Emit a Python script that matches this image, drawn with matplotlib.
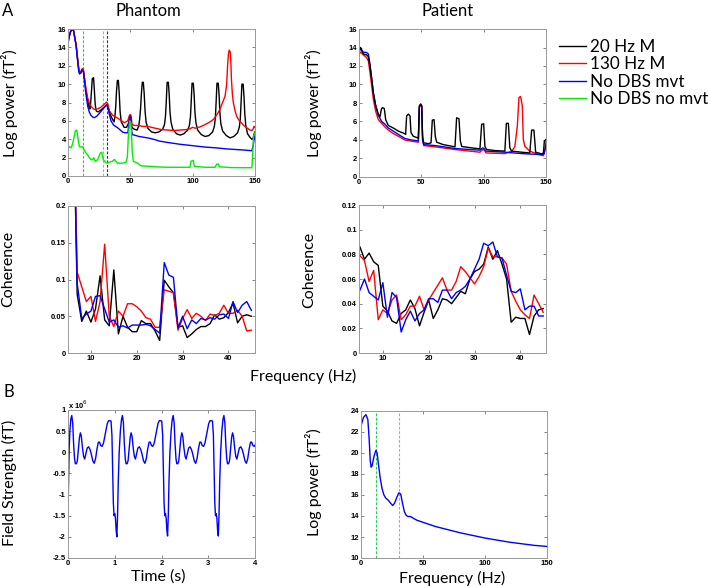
import matplotlib
matplotlib.use('Agg')
import matplotlib.pyplot as plt

plt.rcParams['font.family'] = ['Lato', 'DejaVu Sans']

# ---- A, top: log power spectra (phantom) ----
ph_black_f = [0, 1, 2, 3.5, 4.5, 5.5, 6.5, 7.5, 8.5, 9.3, 10.3, 11.5, 12.3, 13.1, 14.4, 15.8, 17.1, 17.6,
              18.2, 18.8, 19.5, 20.5, 21.2, 21.8, 22.6, 23.5, 24.5, 26.5, 29, 31.3, 33, 34.5, 36, 37.0, 37.6,
              38.3, 38.9, 39.6, 40.4, 41.1, 41.8, 42.7, 45, 47, 48.7, 49.5, 50.0, 50.5, 51.3, 53, 55.5, 56.8,
              57.5, 58.2, 58.9, 59.6, 60.4, 61.1, 61.8, 62.6, 64, 67, 70, 73, 76, 77.4, 78.2, 78.8, 79.5, 80.5,
              81.2, 81.8, 82.6, 84, 87, 90, 93, 96, 97.4, 98.2, 98.8, 99.5, 100.5, 101.2, 101.8, 102.6, 104, 107,
              110, 113, 116, 117.4, 118.2, 118.8, 119.5, 120.5, 121.2, 121.8, 122.6, 124, 127, 130, 133, 136,
              137.4, 138.2, 138.8, 139.5, 140.5, 141.2, 141.8, 142.6, 144, 146, 147.5, 148.5, 149.3, 150]
ph_black_v = [14.5, 15.2, 15.7, 16.0, 15.8, 15.0, 14.3, 13.0, 11.8, 11.2, 11.3, 11.6, 11.5, 10.7, 9.3, 8.2, 7.4, 7.3,
              8.0, 9.2, 10.6, 10.7, 9.2, 7.8, 7.1, 7.0, 7.0, 7.2, 7.5, 7.8, 7.1, 6.5, 6.1, 5.9, 6.4,
              7.6, 9.2, 10.4, 10.4, 9.0, 7.0, 5.9, 5.3, 5.3, 5.8, 6.4, 6.6, 6.3, 5.3, 5.1, 5.0, 5.5,
              6.2, 7.3, 9.0, 10.2, 10.2, 9.0, 7.1, 5.9, 5.2, 4.8, 4.7, 4.8, 5.1, 5.6, 6.5, 8.0, 10.2, 10.2,
              8.8, 7.0, 5.9, 5.1, 4.6, 4.45, 4.6, 5.0, 5.5, 6.4, 8.0, 10.1, 10.1, 8.8, 7.0, 5.8, 5.0, 4.5,
              4.3, 4.4, 4.8, 5.4, 6.3, 8.0, 10.1, 10.1, 8.8, 7.0, 5.7, 4.9, 4.4, 4.15, 4.3, 4.7,
              5.3, 6.2, 7.9, 10.0, 10.0, 8.6, 6.8, 5.5, 4.6, 4.2, 4.0, 4.1, 4.6, 4.8]

ph_red_f = [0, 1, 2, 3.5, 4.5, 5.5, 6.5, 7.5, 8.5, 9.3, 10.3, 11.5, 12.3, 13.1, 14.4, 15.8, 17.5, 19, 21, 23.8,
            26.5, 29, 31, 32, 33.2, 35.8, 39.8, 43, 45.2, 47.9, 49.3, 50, 50.7, 51.3, 53, 56, 60, 64, 70, 75,
            80, 85, 90, 95, 98, 100, 102, 106, 110, 114, 117, 120, 122, 124, 126, 127.3, 128, 128.7, 129.3,
            130.1, 130.6, 131.1, 131.8, 132.6, 134, 135.3, 137, 139, 141, 143.4, 146, 147.5, 148.5, 149.3, 150]
ph_red_v = [14.5, 15.2, 15.7, 16.0, 15.8, 15.0, 14.3, 13.0, 11.8, 11.3, 11.4, 11.7, 11.6, 10.8, 9.5, 8.5, 7.8, 7.5, 7.25, 7.3,
            7.5, 7.8, 8.05, 7.8, 7.1, 6.6, 6.3, 6.0, 5.8, 6.0, 6.6, 6.7, 6.5, 5.6, 5.5, 5.5, 5.4, 5.4, 5.2, 5.05,
            5.0, 4.95, 5.0, 5.05, 5.15, 5.3, 5.2, 5.35, 5.6, 5.9, 6.2, 6.8, 7.3, 8.0, 8.7, 10.0, 12.0, 13.3, 13.7,
            13.5, 12.5, 10.5, 9.0, 8.0, 7.1, 6.5, 6.1, 5.8, 5.5, 5.25, 5.0, 4.95, 5.1, 5.4, 5.3]

ph_blue_f = [0, 1, 2, 3.5, 4.5, 5.5, 6.5, 7.5, 8.5, 9.2, 10.3, 11.5, 12.3, 13.1, 14.4, 15.8, 17, 18.4, 20, 21.1,
             23, 25, 27.8, 30, 31, 32, 33.2, 34.5, 36.6, 39.8, 42, 43.9, 46, 48, 48.8, 49.4, 50, 50.6, 51.1,
             51.6, 53.2, 57, 63.9, 70, 73.3, 80, 90, 100, 110, 120, 127, 135, 142, 147.5, 148.5, 149.3, 150]
ph_blue_v = [14.5, 15.2, 15.7, 16.0, 15.8, 15.0, 14.2, 12.8, 11.5, 11.1, 11.2, 11.55, 11.4, 10.5, 8.9, 7.6, 7.0, 6.6, 6.4, 6.35,
             6.5, 6.8, 7.25, 7.6, 7.76, 7.4, 6.7, 6.0, 5.54, 5.25, 5.0, 4.77, 4.7, 4.7, 5.5, 6.3, 6.5, 6.0, 4.9,
             4.5, 4.45, 4.3, 4.15, 3.95, 3.8, 3.65, 3.45, 3.3, 3.15, 3.05, 2.95, 2.88, 2.82, 2.75, 3.3, 4.0, 4.5]

ph_green_f = [0, 1.1, 2.4, 3.5, 4.5, 5.9, 7, 8, 9.1, 10.4, 11.8, 13.1, 14.5, 15.8, 17, 18.4, 19.5, 20.6, 21.9,
              23.8, 25.9, 27, 28.3, 30.5, 33.2, 35.5, 37.2, 39.8, 43.9, 46.5, 47.6, 48.4, 49.5, 50.5, 51.6,
              52.4, 55.9, 58.5, 66.6, 73.3, 80, 90, 97.9, 98.6, 100.5, 101.3, 110, 118, 119.3, 120.6, 121.4,
              130, 140, 147.5, 148.2, 148.8, 150]
ph_green_v = [3.06, 3.2, 3.05, 3.4, 4.0, 4.9, 5.0, 4.15, 3.2, 3.15, 3.2, 2.8, 2.5, 2.3, 2.0, 1.8, 1.75, 2.0, 1.6,
              1.8, 2.5, 2.6, 1.8, 1.4, 1.5, 1.6, 1.8, 1.4, 1.4, 1.5, 2.0, 4.3, 6.0, 5.8, 2.5,
              1.6, 1.4, 1.1, 1.05, 0.98, 0.95, 0.95, 0.95, 1.6, 1.7, 1.05, 0.95, 0.95, 1.3, 1.3, 1.0,
              0.92, 0.9, 0.9, 2.5, 4.3, 4.7]

# ---- A, top: log power spectra (patient) ----
pt_black_f = [0, 1.3, 2, 3.5, 6.1, 7.5, 8.8, 10.2, 11.5, 13.4, 15.5, 16.8, 17.9, 18.7, 20.3, 21.4, 23.5, 27.5,
              31.6, 36.4, 37.4, 38.2, 39.6, 40.9, 41.7, 43.6, 47.6, 48.4, 49.5, 50.3, 51, 51.9, 55.6, 57.8,
              58.8, 60.2, 61.2, 62.3, 67.6, 77, 78.3, 80.2, 81.3, 82.4, 90.4, 97, 98.4, 100, 101, 102.4, 109,
              117, 118.2, 119.8, 121, 122.5, 130.5, 137, 138.5, 140.3, 141.7, 146.5, 147.9, 148.7, 150]
pt_black_v = [13.6, 14.0, 13.7, 13.3, 13.2, 13.0, 12.0, 10.6, 9.1, 7.7, 6.8, 6.5, 7.3, 7.5, 7.4, 6.2, 5.57, 5.3,
              4.96, 4.7, 4.6, 6.6, 6.8, 6.6, 4.8, 4.4, 4.2, 7.7, 7.9, 7.7, 4.4, 3.7, 3.6, 3.7,
              6.15, 6.2, 4.4, 3.76, 3.5, 3.26, 6.4, 6.3, 3.9, 3.3, 3.15, 3.04, 5.7, 5.75, 3.3, 2.97, 2.86,
              2.8, 5.8, 5.8, 3.15, 2.8, 2.68, 2.6, 5.07, 5.07, 2.68, 2.5, 2.6, 3.9, 4.05]

pt_red_f = [0, 1.3, 3.5, 6.1, 7.5, 8.8, 10.2, 11.5, 13.4, 15.5, 18.2, 20.9, 23.5, 27.5, 31.6, 36.9, 42.2, 47.6,
            48.4, 49.5, 50.3, 51, 51.9, 61, 77, 97, 99.2, 100.5, 101.9, 117, 122.5, 125, 127, 128.3, 129.6,
            131, 131.8, 133, 137, 142.5, 147.9, 149.2, 150]
pt_red_v = [13.3, 13.5, 13.2, 12.9, 12.56, 11.3, 9.84, 8.4, 7.1, 6.2, 5.8, 5.4, 5.07, 4.7, 4.4, 4.0, 3.87, 3.76,
            7.5, 7.75, 7.6, 4.0, 3.4, 3.26, 2.97, 2.68, 2.97, 2.9, 2.6, 2.53, 2.8, 3.26, 5.5, 8.6, 8.7,
            7.7, 4.05, 3.33, 2.8, 2.5, 2.3, 2.97, 3.9]

pt_blue_f = [0, 1.3, 3.5, 6.1, 7.5, 8.8, 10.2, 11.5, 13.4, 15.5, 18.2, 20.9, 23.5, 27.5, 31.6, 36.9, 42.2, 47.6,
             48.4, 49.5, 50.3, 51, 51.9, 61, 77, 97, 99.2, 100.5, 101.9, 117, 130.5, 146.5, 148.5, 150]
pt_blue_v = [13.5, 13.9, 13.5, 13.46, 13.3, 12.2, 10.6, 9.1, 7.7, 6.66, 6.0, 5.7, 5.3, 4.96, 4.6, 4.16, 4.0, 3.9,
             7.6, 7.8, 7.7, 4.05, 3.5, 3.4, 3.08, 2.9, 3.15, 3.04, 2.8, 2.68, 2.53, 2.42, 2.5, 3.5]

# ---- A, bottom: coherence ----
coh_f = list(range(5, 46))   # 1 Hz bins
ph_coh_f = coh_f[1:]         # phantom starts at 6 Hz
ph_coh_black = [0.4, 0.08, 0.043, 0.057, 0.042, 0.06, 0.105, 0.045, 0.037, 0.113, 0.026, 0.05, 0.035, 0.029,
                0.029, 0.044, 0.04, 0.04, 0.03, 0.017, 0.099, 0.09, 0.082, 0.035, 0.037, 0.021, 0.026, 0.032,
                0.036, 0.036, 0.04, 0.052, 0.046, 0.048, 0.055, 0.068, 0.041, 0.05, 0.052, 0.05]
ph_coh_red = [0.4, 0.11, 0.09, 0.07, 0.077, 0.043, 0.07, 0.148, 0.05, 0.036, 0.057, 0.05, 0.067, 0.067,
              0.063, 0.057, 0.048, 0.046, 0.035, 0.035, 0.086, 0.084, 0.082, 0.031, 0.047, 0.059, 0.047, 0.054,
              0.05, 0.044, 0.053, 0.051, 0.054, 0.065, 0.054, 0.054, 0.058, 0.05, 0.03, 0.031]
ph_coh_blue = [0.4, 0.095, 0.047, 0.053, 0.057, 0.077, 0.078, 0.06, 0.042, 0.045, 0.035, 0.037, 0.034, 0.038,
               0.038, 0.038, 0.039, 0.037, 0.032, 0.027, 0.123, 0.106, 0.103, 0.034, 0.05, 0.033, 0.045, 0.04,
               0.047, 0.045, 0.048, 0.046, 0.052, 0.053, 0.047, 0.07, 0.055, 0.065, 0.07, 0.058]

pt_coh_black = [0.086, 0.076, 0.081, 0.074, 0.071, 0.038, 0.034, 0.026, 0.024, 0.032, 0.035, 0.043, 0.036, 0.022,
                0.033, 0.043, 0.028, 0.035, 0.044, 0.043, 0.04, 0.045, 0.05, 0.048, 0.06, 0.066, 0.068, 0.072,
                0.086, 0.076, 0.083, 0.072, 0.06, 0.025, 0.029, 0.028, 0.028, 0.015, 0.03, 0.035, 0.036]
pt_coh_red = [0.079, 0.075, 0.058, 0.067, 0.027, 0.035, 0.032, 0.043, 0.047, 0.027, 0.031, 0.038, 0.038, 0.046,
              0.035, 0.043, 0.049, 0.055, 0.061, 0.051, 0.051, 0.058, 0.07, 0.066, 0.061, 0.056, 0.062, 0.07,
              0.085, 0.078, 0.078, 0.077, 0.072, 0.05, 0.042, 0.035, 0.031, 0.028, 0.047, 0.04, 0.033]
pt_coh_blue = [0.051, 0.06, 0.049, 0.046, 0.043, 0.057, 0.029, 0.049, 0.045, 0.017, 0.027, 0.034, 0.026, 0.032,
               0.035, 0.044, 0.044, 0.041, 0.051, 0.051, 0.044, 0.049, 0.051, 0.054, 0.06, 0.068, 0.076, 0.089,
               0.087, 0.09, 0.078, 0.077, 0.063, 0.05, 0.049, 0.052, 0.035, 0.038, 0.038, 0.03, 0.03]

# ---- B: phantom field strength (x 10^6 fT) ----
field_t = [0.0, 0.012, 0.025, 0.04, 0.06,
           0.08, 0.10, 0.12, 0.14, 0.157, 0.18, 0.20, 0.22, 0.245, 0.265, 0.285, 0.31, 0.335, 0.357, 0.38,
           0.41, 0.44, 0.47, 0.50, 0.53, 0.56, 0.59, 0.62, 0.65, 0.675, 0.70, 0.73, 0.76, 0.80, 0.84, 0.87,
           0.92, 0.94, 0.955, 0.97, 0.985, 1.00, 1.015, 1.03, 1.045, 1.06, 1.075, 1.095, 1.12, 1.145,
           1.165, 1.185, 1.205, 1.225, 1.242, 1.265, 1.285, 1.305, 1.33, 1.35, 1.37, 1.395, 1.42, 1.442,
           1.465, 1.495, 1.525, 1.555, 1.585, 1.615, 1.645, 1.675, 1.705, 1.735, 1.76, 1.785, 1.815, 1.845,
           1.885, 1.925, 1.955, 2.005, 2.025, 2.04, 2.055, 2.07, 2.085, 2.10, 2.115, 2.13, 2.145, 2.16, 2.18,
           2.205, 2.23,
           2.25, 2.27, 2.29, 2.31, 2.327, 2.35, 2.37, 2.39, 2.415, 2.435, 2.455, 2.48, 2.505, 2.527, 2.55,
           2.58, 2.61, 2.64, 2.67, 2.70, 2.73, 2.76, 2.79, 2.82, 2.845, 2.87, 2.90, 2.93, 2.97, 3.01, 3.04,
           3.09, 3.11, 3.125, 3.14, 3.155, 3.17, 3.185, 3.20, 3.215, 3.23, 3.245, 3.265, 3.29, 3.315,
           3.335, 3.355, 3.375, 3.395, 3.412, 3.435, 3.455, 3.475, 3.50, 3.52, 3.54, 3.565, 3.59, 3.612,
           3.635, 3.665, 3.695, 3.725, 3.755, 3.785, 3.815, 3.845, 3.875, 3.905, 3.93, 3.955, 3.985, 4.0]
field_v = [-1.45, -0.7, 0.1, 0.5, 0.78,
           0.87, 0.70, 0.20, -0.15, -0.27, -0.27, -0.20, 0.05, 0.35, 0.46, 0.38, 0.10, -0.10, -0.16, -0.05,
           0.10, 0.13, 0.07, -0.05, -0.20, -0.26, -0.15, 0.08, 0.24, 0.24, 0.16, 0.14, 0.22, 0.45, 0.68, 0.75,
           0.74, 0.40, -0.40, -1.20, -1.50, -1.45, -1.56, -1.85, -2.00, -1.50, -0.70, 0.00, 0.50, 0.78,
           0.87, 0.70, 0.20, -0.15, -0.27, -0.27, -0.20, 0.05, 0.35, 0.46, 0.38, 0.10, -0.10, -0.16,
           -0.05, 0.10, 0.13, 0.07, -0.05, -0.20, -0.26, -0.15, 0.08, 0.24, 0.24, 0.16, 0.14, 0.22,
           0.45, 0.68, 0.75, 0.74, 0.40, -0.40, -1.20, -1.50, -1.45, -1.56, -1.85, -1.98, -1.50, -0.70, 0.00,
           0.50, 0.78,
           0.87, 0.70, 0.20, -0.15, -0.27, -0.27, -0.20, 0.05, 0.35, 0.46, 0.38, 0.10, -0.10, -0.16, -0.05,
           0.10, 0.13, 0.07, -0.05, -0.20, -0.26, -0.15, 0.08, 0.24, 0.24, 0.16, 0.14, 0.22, 0.45, 0.68, 0.75,
           0.74, 0.40, -0.40, -1.20, -1.50, -1.45, -1.56, -1.85, -1.98, -1.50, -0.70, 0.00, 0.50, 0.78,
           0.87, 0.70, 0.20, -0.15, -0.27, -0.27, -0.20, 0.05, 0.35, 0.46, 0.38, 0.10, -0.10, -0.16,
           -0.05, 0.10, 0.13, 0.07, -0.05, -0.20, -0.26, -0.15, 0.08, 0.24, 0.24, 0.16, 0.14, 0.17]

# ---- B: phantom spectrum ----
psd_b_f = [0.5, 2, 4, 5.5, 6.5, 7.5, 8.2, 9, 10.5, 12, 13, 14, 15.5, 17, 18.5, 20, 22, 24, 25.5, 27, 29, 30.5,
           32, 33.5, 35, 36.5, 38, 40, 42, 45, 50, 55, 60, 70, 80, 90, 100, 110, 120, 130, 140, 150]
psd_b_v = [22.8, 23.4, 23.65, 23.2, 21.5, 19.2, 18.65, 18.8, 19.7, 20.25, 20.0, 19.0, 17.6, 16.6, 16.0, 15.7,
           15.5, 15.2, 15.0, 15.2, 15.8, 16.2, 16.1, 15.2, 14.4, 14.05, 13.95, 13.95, 13.8, 13.6, 13.4, 13.2,
           13.0, 12.7, 12.4, 12.15, 11.9, 11.7, 11.5, 11.35, 11.2, 11.1]

legend_names = ['20 Hz M', '130 Hz M', 'No DBS mvt', 'No DBS no mvt']
colors = ['#000000', '#ff0000', '#0000ff', '#00ee00']

TICKFONT = dict(fontsize=5.5, fontweight='bold', family='Liberation Sans')


def setup(ax, xlim, xt, xtl, ylim, yt, ytl):
    ax.set_xlim(xlim)
    ax.set_ylim(ylim)
    ax.set_xticks(xt, xtl, **TICKFONT)
    ax.set_yticks(yt, ytl, **TICKFONT)
    ax.tick_params(direction='in', length=2.5, width=0.5, top=True, right=True,
                   color='#555555', pad=1.5)
    for s in ax.spines.values():
        s.set_color('#999999')
        s.set_linewidth(0.7)


W, H = 708.0, 586.0


def box(l, t, r, b):
    return [l / W, 1 - b / H, (r - l) / W, (b - t) / H]


fig = plt.figure(figsize=(7.08, 5.86), dpi=100)

psd_ticks = ([0, 50, 100, 150], ['0', '50', '100', '150'])
psd_yt = list(range(0, 17, 2))

ax1 = fig.add_axes(box(68, 29, 255, 176))
ax1.axvline(12, color='#22cc55', ls=(0, (2.5, 1.5)), lw=0.8)
ax1.axvline(28, color='#aaaaaa', ls=(0, (2.5, 1.5)), lw=0.8)
ax1.axvline(31, color='#333333', ls=(0, (2.5, 1.5)), lw=0.8)
ax1.plot(ph_black_f, ph_black_v, color=colors[0], lw=1.0)
ax1.plot(ph_red_f, ph_red_v, color=colors[1], lw=1.0)
ax1.plot(ph_blue_f, ph_blue_v, color=colors[2], lw=1.0)
ax1.plot(ph_green_f, ph_green_v, color=colors[3], lw=1.0)
setup(ax1, (0, 150), *psd_ticks, (0, 16), psd_yt, [str(v) for v in psd_yt])

ax2 = fig.add_axes(box(359, 29, 546, 177))
l_red, = ax2.plot(pt_red_f, pt_red_v, color=colors[1], lw=1.0)
l_blue, = ax2.plot(pt_blue_f, pt_blue_v, color=colors[2], lw=1.0)
l_black, = ax2.plot(pt_black_f, pt_black_v, color=colors[0], lw=1.0)
l_green, = ax2.plot([], [], color=colors[3], lw=1.0)
setup(ax2, (0, 150), *psd_ticks, (0, 16), psd_yt, [str(v) for v in psd_yt])

fig.legend([l_black, l_red, l_blue, l_green], legend_names, loc='upper left',
           bbox_to_anchor=(559 / W, 1 - 39 / H), frameon=False, fontsize=12.3,
           handlelength=1.6, handletextpad=0.2, labelspacing=0.08, borderaxespad=0,
           borderpad=0)

coh_xt = ([10, 20, 30, 40], ['10', '20', '30', '40'])
ax3 = fig.add_axes(box(68, 206, 255, 353))
ax3.plot(ph_coh_f, ph_coh_black, color=colors[0], lw=1.0)
ax3.plot(ph_coh_f, ph_coh_red, color=colors[1], lw=1.0)
ax3.plot(ph_coh_f, ph_coh_blue, color=colors[2], lw=1.0)
setup(ax3, (5, 45.8), *coh_xt, (0, 0.2), [0, 0.05, 0.1, 0.15, 0.2],
      ['0', '0.05', '0.1', '0.15', '0.2'])

ax4 = fig.add_axes(box(359, 205, 546, 353))
ax4.plot(coh_f, pt_coh_black, color=colors[0], lw=1.0)
ax4.plot(coh_f, pt_coh_red, color=colors[1], lw=1.0)
ax4.plot(coh_f, pt_coh_blue, color=colors[2], lw=1.0)
setup(ax4, (4.8, 45.6), *coh_xt, (0, 0.12), [0, 0.02, 0.04, 0.06, 0.08, 0.1, 0.12],
      ['0', '0.02', '0.04', '0.06', '0.08', '0.1', '0.12'])

ax5 = fig.add_axes(box(68, 410, 255, 558))
ax5.plot(field_t, field_v, color=colors[2], lw=1.0)
fyt = [-2.5, -2, -1.5, -1, -0.5, 0, 0.5, 1]
setup(ax5, (0, 4), [0, 1, 2, 3, 4], ['0', '1', '2', '3', '4'], (-2.5, 1), fyt,
      ['-2.5', '-2', '-1.5', '-1', '-0.5', '0', '0.5', '1'])
fig.text(68 / W, 1 - 405 / H, r'x 10$^{6}$', fontsize=5.5, fontweight='bold',
         family='Liberation Sans', va='center', ha='left')

ax6 = fig.add_axes(box(361, 411, 547, 558))
ax6.axvline(12, color='#22cc55', ls=(0, (2.5, 1.5)), lw=0.8)
ax6.axvline(31, color='#aaaaaa', ls=(0, (2.5, 1.5)), lw=0.8)
ax6.plot(psd_b_f, psd_b_v, color=colors[2], lw=1.0)
b_yt = list(range(10, 25, 2))
setup(ax6, (0, 150), *psd_ticks, (10, 24), b_yt, [str(v) for v in b_yt])

# labels
LBL = 11.5
fig.text(10 / W, 1 - 103 / H, 'Log power (fT²)', rotation=90, ha='center', va='center', fontsize=LBL)
fig.text(313 / W, 1 - 103 / H, 'Log power (fT²)', rotation=90, ha='center', va='center', fontsize=LBL)
fig.text(8 / W, 1 - 269 / H, 'Coherence', rotation=90, ha='center', va='center', fontsize=LBL)
fig.text(309 / W, 1 - 270 / H, 'Coherence', rotation=90, ha='center', va='center', fontsize=LBL)
fig.text(9 / W, 1 - 483 / H, 'Field Strength (fT)', rotation=90, ha='center', va='center', fontsize=LBL)
fig.text(313 / W, 1 - 482 / H, 'Log power (fT²)', rotation=90, ha='center', va='center', fontsize=LBL)

fig.text(303 / W, 1 - 376 / H, 'Frequency (Hz)', ha='center', va='center', fontsize=LBL)
fig.text(158 / W, 1 - 577 / H, 'Time (s)', ha='center', va='center', fontsize=LBL)
fig.text(452 / W, 1 - 578 / H, 'Frequency (Hz)', ha='center', va='center', fontsize=LBL)

fig.text(148 / W, 1 - 11 / H, 'Phantom', ha='center', va='center', fontsize=12)
fig.text(448 / W, 1 - 11 / H, 'Patient', ha='center', va='center', fontsize=12)
fig.text(8 / W, 1 - 11 / H, 'A', ha='center', va='center', fontsize=12)
fig.text(9 / W, 1 - 392 / H, 'B', ha='center', va='center', fontsize=12)

fig.savefig('out.png', dpi=100)
